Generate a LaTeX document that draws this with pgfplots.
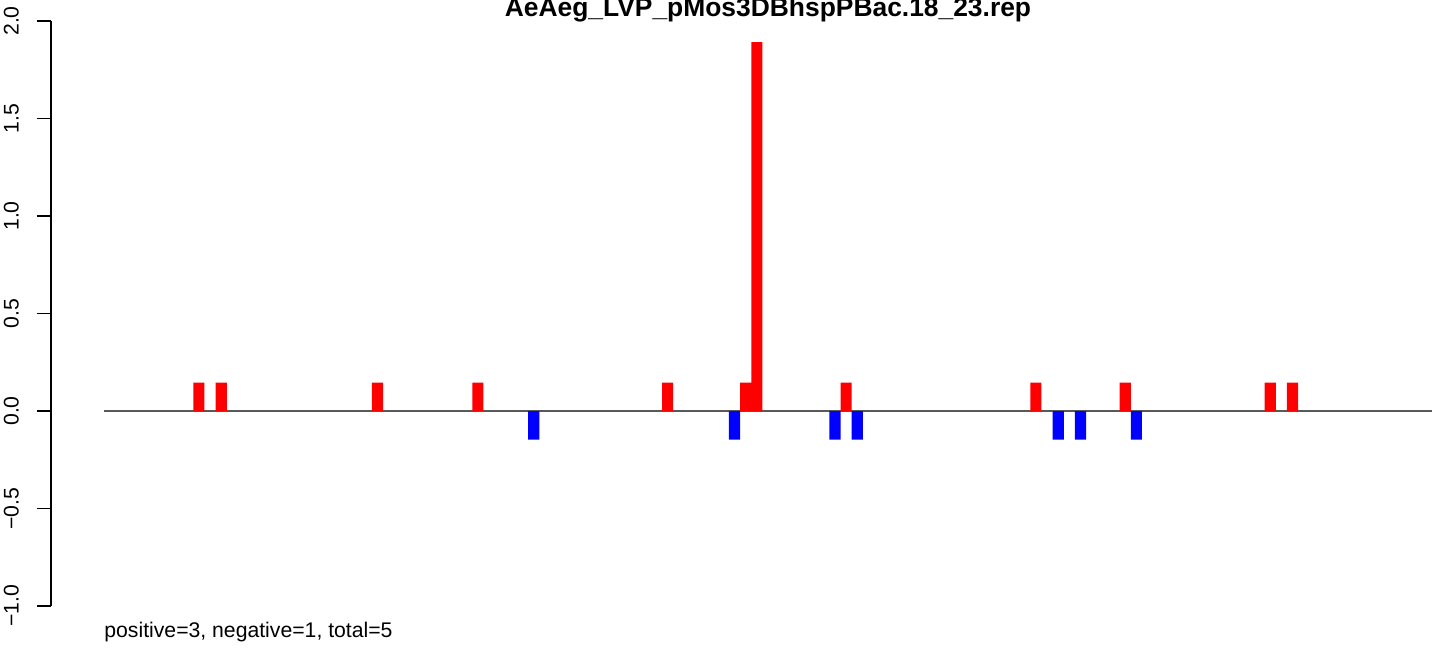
\documentclass[border=0pt]{standalone}
\usepackage{fontspec}
\setmainfont{Liberation Sans}
\usepackage{pgfplots}
\pgfplotsset{compat=1.18}
\definecolor{rred}{RGB}{255,0,0}
\definecolor{rblue}{RGB}{0,0,255}
\begin{document}
\begin{tikzpicture}
\useasboundingbox (0,0) rectangle (722pt,325pt);
\begin{axis}[
  at={(25.5pt,22pt)}, anchor=south west,
  scale only axis, width=696.5pt, height=292.5pt,
  xmin=-4.749, xmax=120.07, ymin=-1, ymax=2,
  axis x line=none, axis y line*=left,
  clip=false,
  xtick=\empty,
  ytick={-1,-0.5,0,0.5,1,1.5,2},
  yticklabels={−1.0,−0.5,0.0,0.5,1.0,1.5,2.0},
  tick align=outside,
  major tick length=7pt,
  every tick/.style={black, line width=0.6pt},
  axis line style={black, line width=0.6pt},
  yticklabel style={font=\fontsize{10.6}{12}\selectfont, rotate=90, anchor=south},
  yticklabel shift=5.5pt,
]
\addplot[color=black!65, line width=0.55pt] coordinates {(0,0) (119,0)};
\addplot[ybar, bar width=1, bar shift=0pt, draw=none, fill=rred] coordinates {
(8.5,0.146) (10.5,0.146) (24.5,0.146) (33.5,0.146) (50.5,0.146) (57.5,0.146)
(58.5,1.892) (66.5,0.146) (83.5,0.146) (91.5,0.146) (104.5,0.146) (106.5,0.146)};
\addplot[ybar, bar width=1, bar shift=0pt, draw=none, fill=rblue] coordinates {
(38.5,-0.147) (56.5,-0.147) (65.5,-0.147) (67.5,-0.147) (85.5,-0.147) (87.5,-0.147) (92.5,-0.147)};
\end{axis}
\node[anchor=base, font=\bfseries\fontsize{13.2}{15}\selectfont, inner sep=0pt] at (384pt,316.5pt) {AeAeg\_LVP\_pMos3DBhspPBac.18\_23.rep};
\node[anchor=base west, font=\fontsize{10.6}{12}\selectfont, inner sep=0pt] at (52pt,6.5pt) {positive=3, negative=1, total=5};
\end{tikzpicture}
\end{document}
